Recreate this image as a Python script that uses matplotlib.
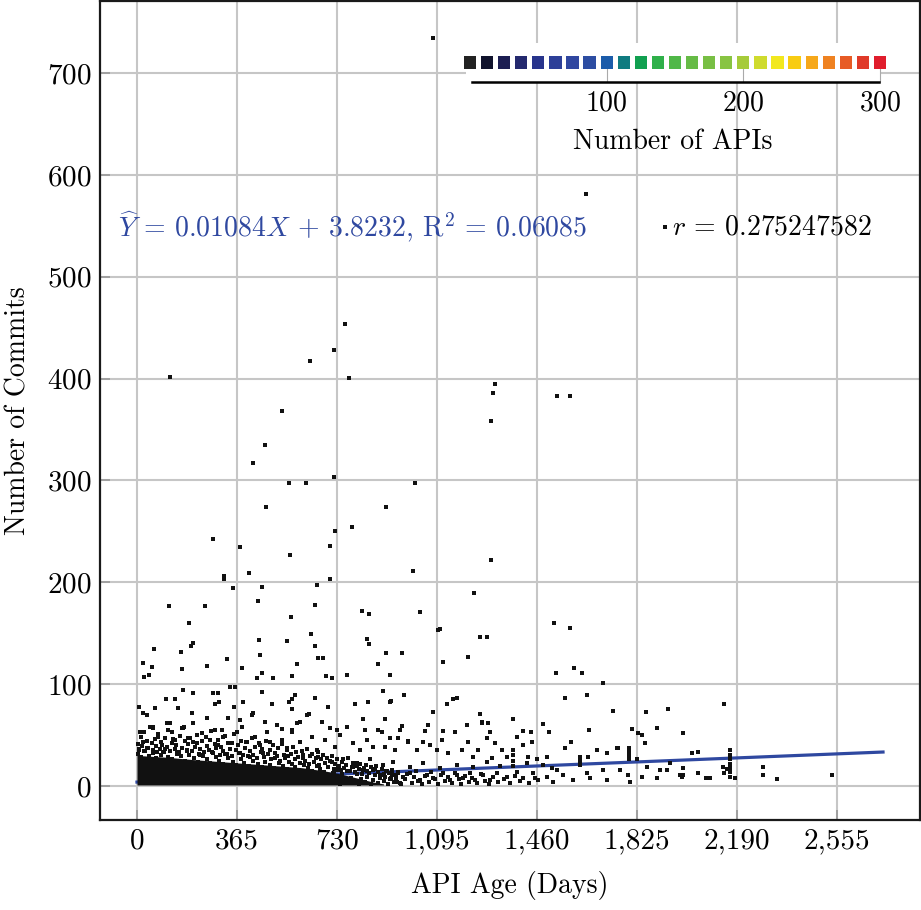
import matplotlib
matplotlib.use("Agg")
import matplotlib.pyplot as plt
from matplotlib.ticker import FuncFormatter

plt.rcParams["font.family"] = "cmr10"
plt.rcParams["mathtext.fontset"] = "cm"
plt.rcParams["axes.formatter.use_mathtext"] = True
plt.rcParams["axes.unicode_minus"] = False

# points above 100 commits
high_days = [1080, 1639, 1927, 1533, 1580, 759, 719, 631, 774, 120, 1307, 1299, 1292,
             529, 467, 423, 555, 617, 719, 1015, 471, 909, 277, 723, 785, 376, 704, 558,
             1292, 318, 318, 409, 704, 1007, 350, 456, 657, 1230, 117, 248, 442, 650, 821,
             847, 1033, 190, 562, 1099, 1106, 635, 445, 548, 650, 840, 847, 1252, 1278,
             204, 197, 62, 161, 909, 967, 449, 661, 679, 1117, 1208, 329, 22, 584, 880, 55,
             164, 255, 383, 44, 26, 456, 566, 690, 712, 767, 923, 438, 496, 1522, 1580,
             1595, 1529, 1624, 1701]
high_commits = [734, 581, 549, 383, 383, 454, 428, 417, 401, 402, 395, 386, 358,
                368, 335, 317, 297, 297, 303, 297, 274, 274, 242, 250, 254, 235, 236, 227,
                222, 206, 203, 209, 203, 211, 194, 195, 197, 189, 177, 177, 182, 178, 172,
                169, 171, 160, 166, 153, 154, 149, 143, 142, 137, 144, 139, 146, 146,
                140, 137, 134, 132, 131, 131, 129, 126, 126, 122, 127, 125, 121, 120, 120, 117,
                115, 118, 116, 109, 107, 111, 108, 108, 106, 109, 109, 106, 106, 160, 155,
                116, 111, 111, 101]

# points between roughly 20 and 100 commits
mid_days = [7, 106, 139, 168, 204, 277, 296, 339, 358, 299, 285, 354, 387, 22, 36, 66,
            201, 150, 456, 493, 555, 566, 577, 566, 650, 697, 628, 423, 796, 843, 898,
            923, 825, 905, 675, 467, 529, 566, 595, 730, 767, 832, 880, 255, 120, 58, 168,
            310, 376, 420,
            11, 22, 58, 77, 91, 110, 128, 139, 164, 186, 204, 219, 237, 255, 266, 285, 296,
            314, 332, 347, 365, 383, 401, 420, 431, 449, 475, 485, 511, 529, 548, 566, 584,
            595, 621, 639, 657, 675, 686, 704, 723, 741, 767, 788, 814, 840, 861, 894, 905,
            923, 942,
            7, 36, 73, 102, 146, 183, 230, 274, 321, 376, 412, 460, 504, 551, 606, 661, 712,
            752, 803, 850, 898, 934,
            975, 927, 1080, 1132, 1153, 1168, 1062, 967, 1252, 1259, 1281, 1372, 1482, 1562,
            1643, 1737, 1858, 1938, 1898, 1807, 1829, 1843, 1650, 1584, 1504, 1409, 1438,
            1993, 1854, 1756, 1288, 1204, 1117, 1051, 989, 960,
            2143, 2048, 2026,
            953, 989, 1022, 1044, 1069, 1095, 1113, 1135, 1161, 1186, 1208, 1226, 1245, 1259,
            1278, 1296, 1307, 1332, 1351, 1387, 1409, 1427, 1442, 1460, 1497, 1562, 1646,
            1679, 1716, 1752, 1825, 1945,
            1372, 1372, 1372, 1372, 1617, 1617, 1617, 1796, 1796, 1796, 1796,
            2164, 2164, 2164, 2164, 2164, 2164]
mid_commits = [78, 85, 85, 94, 91, 91, 91, 97, 97, 82, 80, 78, 82, 72, 70, 77,
               72, 77, 92, 80, 82, 85, 89, 76, 86, 78, 71, 72, 80, 82, 93,
               82, 66, 66, 63, 63, 56, 55, 63, 55, 58, 55, 55, 67, 62, 58, 57,
               55, 65, 70,
               53, 43, 57, 48, 40, 62, 53, 45, 57, 47, 62, 42, 52, 67, 45, 55, 40,
               48, 67, 42, 53, 58, 43, 70, 48, 40, 53, 43, 60, 45, 37, 53, 62,
               43, 70, 48, 35, 63, 45, 57, 38, 50, 58, 42, 35, 45, 38, 53, 38,
               47, 35,
               35, 37, 33, 36, 32, 34, 30, 33, 31, 32, 28, 32, 27, 29, 27, 28, 24,
               26, 23, 26, 21, 24,
               89, 83, 73, 80, 85, 86, 60, 59, 71, 62, 62, 66, 61, 86,
               89, 74, 73, 76, 57, 56, 52, 50, 55, 43, 53, 54, 53,
               52, 42, 37, 53, 60, 54, 54, 44, 55,
               80, 33, 32,
               47, 43, 35, 43, 40, 35, 45, 32, 53, 35, 43, 28, 35, 63,
               47, 27, 42, 35, 28, 48, 40, 28, 43, 26, 28, 37, 28,
               35, 32, 37, 26, 23,
               20, 25, 30, 35, 21, 25, 28, 26, 30, 33, 37,
               14, 18, 22, 26, 30, 35]

# crowd of points just above the solid core
crowd_days = [3, 9, 14, 18, 25, 31, 38, 42, 48, 54, 60, 67, 71, 78, 84, 89, 96, 101,
              108, 115, 119, 126, 133, 137, 144, 152, 157, 163, 170, 176, 181, 188, 195,
              199, 206, 212, 219, 226, 231, 238, 244, 251, 257, 263, 270, 276, 283, 289,
              295, 302, 308, 315, 321, 328, 334, 341, 347, 354, 360, 367, 373, 380, 386,
              393, 399, 406, 412, 419, 425, 432, 438, 445, 451, 458, 464, 471, 477, 484,
              490, 497, 503, 510, 516, 523, 529, 536, 542, 549, 555, 562, 568, 575, 581,
              588, 594, 601, 607, 614, 620, 627, 633, 640, 646, 653, 659, 666, 672, 679,
              685, 692, 698, 705, 711, 718, 724, 731, 737, 744, 750, 757, 763, 770, 776,
              783, 789, 796, 802, 809, 815, 822, 828, 835, 841, 848, 854, 861, 867, 874,
              880, 887, 893, 900, 906, 913, 919, 926, 932, 939, 945, 952]
crowd_commits = [41, 36, 48, 39, 53, 34, 44, 37, 58, 42, 35, 46, 39, 51, 36, 43, 33, 47,
                 38, 55, 34, 42, 46, 36, 40, 33, 49, 37, 58, 44, 35, 41, 47,
                 34, 43, 38, 50, 31, 36, 44, 33, 48, 39, 35, 54, 32, 41, 37,
                 45, 30, 38, 34, 49, 31, 42, 36, 29, 51, 35, 40, 32, 44, 30,
                 37, 43, 29, 34, 47, 30, 38, 27, 42, 33, 36, 28, 44, 31, 35,
                 26, 40, 32, 29, 37, 25, 41, 30, 27, 35, 24, 31, 38, 26, 33,
                 28, 23, 34, 30, 25, 36, 22, 29, 31, 24, 27, 33, 21, 26, 30,
                 23, 27, 19, 25, 29, 17, 22, 26, 20, 16, 24, 18, 21, 27, 15,
                 19, 23, 14, 20, 17, 22, 12, 18, 21, 15, 13, 19, 16, 11, 20,
                 14, 10, 17, 12, 9, 15, 13, 8, 16, 11, 7, 13]

# points along the top edge of the solid core
edge_days = [5, 16, 27, 44, 57, 69, 86, 99, 113, 129, 146, 161, 174, 191, 209, 224,
             241, 254, 268, 287, 299, 313, 331, 349, 362, 378, 391, 409, 423, 441, 455,
             468, 487, 501, 519, 533, 547, 564, 578, 592, 611, 625, 638, 656, 669, 684,
             699, 716, 733, 748]
edge_commits = [31, 28, 34, 29, 32, 27, 30, 33, 28, 26, 31, 29, 25, 30, 27, 24,
                29, 26, 23, 28, 25, 22, 27, 24, 21, 26, 23, 20, 25, 22, 19,
                24, 21, 18, 23, 20, 17, 22, 19, 16, 21, 18, 15, 20, 17, 14,
                19, 13, 16, 12]

# points below roughly 20 commits, outside the solid core
low_days = [705, 712, 720, 728, 735, 742, 750, 758, 765, 772, 780, 788, 795, 803, 810,
            818, 825, 833, 840, 848, 855, 863, 870, 878, 886, 893, 901, 908, 916, 923,
            931, 938, 946, 954, 961,
            949, 971, 996, 1033, 1058, 1080, 1117, 1142, 1168, 1190, 1215, 1234, 1263,
            1288, 1314, 1351, 1387, 1409, 1445, 1464, 1497, 1518, 1555, 1591,
            996, 1044, 1106, 1168, 1226, 1278, 1325, 1424, 1482, 1515, 1533,
            1643, 1653, 1701, 1716, 1763, 1792, 1799, 1843, 1898, 1934, 1909, 1862, 1982,
            1993, 1993, 1989, 2139, 2154, 2143, 2164, 2183, 2048, 2077, 2091, 2285, 2285,
            2336, 2537,
            965, 978, 984, 1002, 1011, 1019, 1027, 1040, 1052, 1066, 1073, 1088, 1099,
            1110, 1124, 1137, 1149, 1160, 1175, 1183, 1197, 1211, 1222, 1240, 1255, 1270,
            1284, 1299, 1318, 1340, 1362, 1380, 1398, 1431, 1453]
low_commits = [3, 8, 14, 5, 18, 2, 10, 6, 15, 3, 8, 19, 5, 12, 2,
               7, 16, 4, 9, 13, 2, 6, 17, 3, 8, 11, 5, 15, 2, 7,
               12, 4, 9, 14, 3,
               4, 9, 13, 6, 11, 8, 13, 6, 11, 8, 13, 6, 11,
               6, 13, 9, 14, 8, 13, 6, 9, 4, 11, 6,
               19, 23, 18, 21, 19, 24, 20, 23, 21, 18, 16,
               13, 8, 16, 6, 16, 11, 4, 9, 8, 16, 16, 19, 11,
               18, 11, 9, 19, 17, 13, 9, 8, 13, 8, 8, 19, 11,
               7, 11,
               2, 7, 12, 3, 9, 15, 5, 2, 10, 4, 14, 7, 2,
               11, 5, 9, 3, 13, 7, 2, 10, 4, 8, 3, 12, 5,
               2, 9, 4, 7, 3, 10, 5, 3, 8]

# upper edge of the solid black core of points
core_days = [0, 60, 120, 200, 300, 400, 500, 600, 680, 740, 800, 860, 900]
core_top = [30, 29, 28, 26, 24, 22, 20, 18, 15, 12, 8, 4, 2]
core_floor = 1

# regression line
fit_slope = 0.01084
fit_intercept = 3.8232
fit_days = [0, 2723]

x_ticks = [0, 365, 730, 1095, 1460, 1825, 2190, 2555]
y_ticks = [0, 100, 200, 300, 400, 500, 600, 700]

api_levels = [0, 12.5, 25, 37.5, 50, 62.5, 75, 87.5, 100, 112.5, 125, 137.5, 150,
              162.5, 175, 187.5, 200, 212.5, 225, 237.5, 250, 262.5, 275, 287.5, 300]
api_colors = ["#222222", "#10122c", "#1c1e52", "#24296e", "#28348c", "#2d3f98",
              "#3047a0", "#2d4da2", "#1b5caa", "#0f7b80", "#11a050", "#2fb04a",
              "#50b848", "#66bb46", "#78bf44", "#88c442", "#a6cb3a", "#cfdb2e",
              "#f2e81e", "#f8cc12", "#f6a81a", "#ef8221", "#e75b25", "#e03a29",
              "#e01d2c"]

pt_color = "#111111"
blue = "#2f48a0"
grid_color = "#c6c6c6"
pt_size = 7

fig = plt.figure(figsize=(9.21, 9.10), dpi=100)
ax = fig.add_axes([100 / 921, 90 / 910, 820 / 921, 819 / 910])

ax.fill_between(core_days, core_floor, core_top, color=pt_color, linewidth=0, zorder=3)
for xs, ys in [(high_days, high_commits), (mid_days, mid_commits),
               (crowd_days, crowd_commits), (edge_days, edge_commits),
               (low_days, low_commits)]:
    ax.scatter(xs, ys, s=pt_size, marker="s", color=pt_color, linewidths=0, zorder=4)

fit_commits = [fit_slope * d + fit_intercept for d in fit_days]
ax.plot(fit_days, fit_commits, color=blue, linewidth=2.3, zorder=2)

ax.set_xlim(-135, 2858)
ax.set_ylim(-33.4, 770.7)
ax.set_xticks(x_ticks)
ax.set_yticks(y_ticks)
ax.xaxis.set_major_formatter(FuncFormatter(lambda v, p: "{:,}".format(int(v))))
ax.tick_params(direction="in", length=7, width=1.2, color="#999999", labelsize=21, pad=6)
ax.grid(True, color=grid_color, linewidth=1.5, zorder=0)
ax.set_axisbelow(True)
for sp in ax.spines.values():
    sp.set_linewidth(1.6)
    sp.set_color("#1a1a1a")

ax.set_xlabel("API Age (Days)", fontsize=20, labelpad=12)
ax.set_ylabel("Number of Commits", fontsize=20, labelpad=11)

ax.text(-69, 548, r"$\widehat{Y}$ = 0.01084$X$ + 3.8232, R$^2$ = 0.06085", color=blue,
        fontsize=20, va="center", ha="left", zorder=5)
ax.text(1953, 548, r"$r$ = 0.275247582", color="black", fontsize=20,
        va="center", ha="left", zorder=5)

# number-of-APIs colour legend
cax = fig.add_axes([466 / 921, (910 - 82) / 910, 414 / 921, 39 / 910])
cax.set_xlim(-2.9, 299.3)
cax.set_ylim(0, 1)
cax.scatter(api_levels, [0.5] * len(api_levels), marker="s", s=78, c=api_colors,
            linewidths=0, zorder=3, clip_on=False)
for name in ["top", "left", "right"]:
    cax.spines[name].set_visible(False)
cax.spines["bottom"].set_linewidth(1.8)
cax.spines["bottom"].set_bounds(1.5, 299)
cax.set_yticks([])
cax.set_xticks([100, 200, 300])
cax.tick_params(axis="x", direction="in", length=10, width=0.8, color="#aaaaaa",
                labelsize=20, pad=6)
cax.set_xlabel("Number of APIs", fontsize=20, labelpad=9)

fig.savefig("out.png", dpi=100)
